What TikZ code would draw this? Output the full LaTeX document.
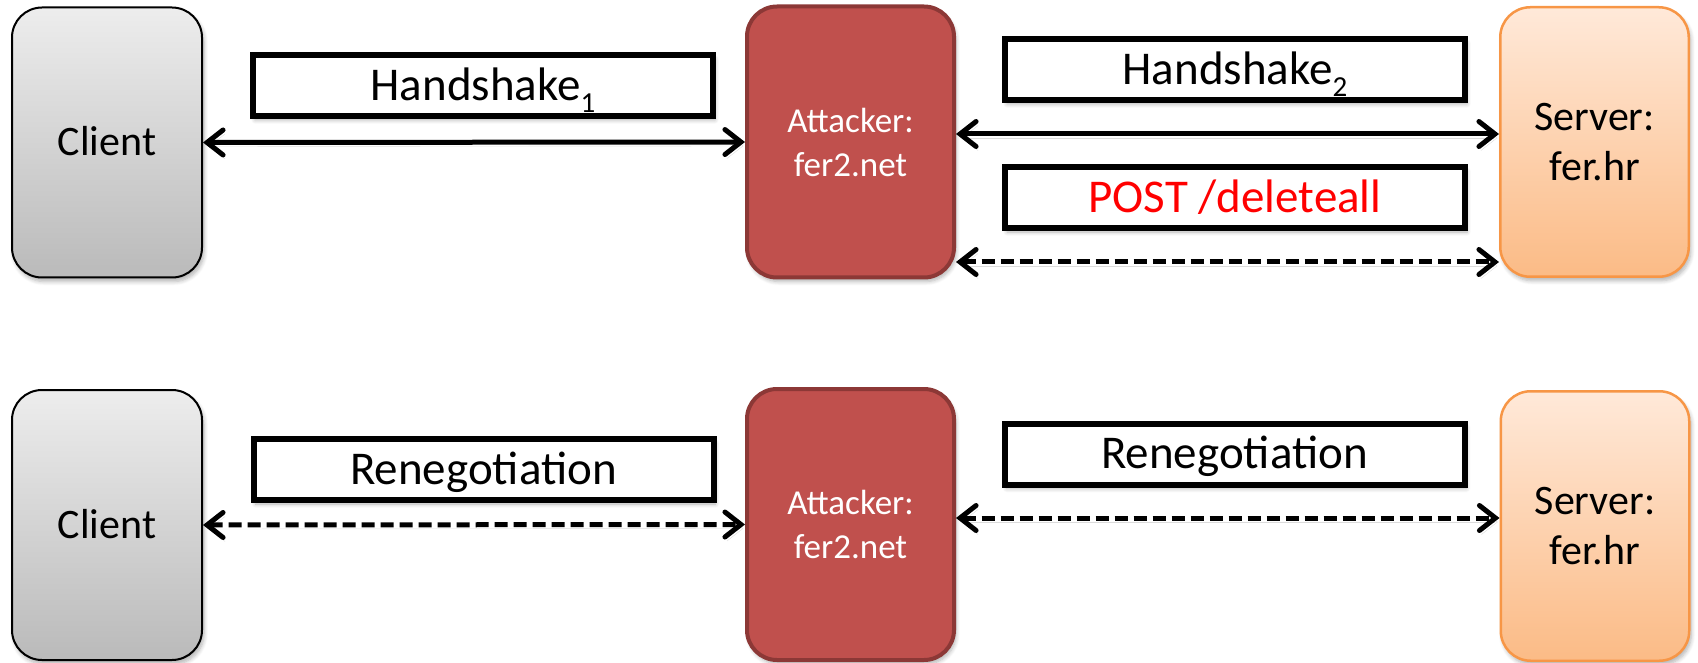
\documentclass[tikz,border=0pt]{standalone}
\usepackage{fontspec}
\setmainfont{Carlito}
\usetikzlibrary{arrows.meta,shadows.blur}

\definecolor{attfill}{HTML}{C0504D}
\definecolor{attline}{HTML}{8C3836}
\definecolor{srvtop}{HTML}{FFE9D9}
\definecolor{srvbot}{HTML}{FBBB86}
\definecolor{srvline}{HTML}{F79646}
\definecolor{clitop}{HTML}{EDEDED}
\definecolor{clibot}{HTML}{BABABA}
\definecolor{msgred}{HTML}{FF0000}

% lowered index after a message name
\newcommand\msgsub[1]{\raisebox{-0.26em}{\fontsize{29}{29}\selectfont #1}}

\begin{document}
\begin{tikzpicture}[x=1pt,y=-1pt,
  softshadow/.style={blur shadow={shadow xshift=2pt,shadow yshift=-4pt,
      shadow blur steps=6,shadow blur radius=4pt,shadow opacity=30}},
  party/.style={rounded corners=30pt,inner sep=0pt,align=center,softshadow},
  client/.style={party,draw=black,line width=2pt,top color=clitop,bottom color=clibot,
      minimum width=190pt,minimum height=270pt,
      font=\fontsize{42}{50}\selectfont,text height=26.5pt,text depth=0pt},
  attacker/.style={party,draw=attline,line width=4pt,fill=attfill,text=white,
      minimum width=207pt,minimum height=271pt,font=\fontsize{35}{44}\selectfont},
  server/.style={party,draw=srvline,line width=2.5pt,top color=srvtop,bottom color=srvbot,
      minimum width=188.5pt,minimum height=269.5pt,font=\fontsize{42}{50}\selectfont},
  msgbox/.style={draw=black,line width=6pt,fill=white,inner sep=0pt,softshadow,
      minimum width=460pt,minimum height=61pt,
      font=\fontsize{47}{50}\selectfont,text height=29.5pt,text depth=0pt},
  link/.style={line width=5pt,
      {Straight Barb[length=16pt,width=25pt,line cap=round]}-{Straight Barb[length=16pt,width=25pt,line cap=round]},
      preaction={draw=black!40,opacity=0.35,transform canvas={xshift=2pt,yshift=-4pt}}},
  dlink/.style={link,dash pattern=on 13pt off 6pt}
]
\useasboundingbox (0,0) rectangle (1698,663);

% ---- first exchange: two separate handshakes ----
\node[client]   (c1) at (107,142.5) {Client};
\node[attacker] (a1) at (850.5,142) {Attacker:\\fer2.net};
\node[server]   (s1) at (1594.5,142) {Server:\\fer.hr};

\node[msgbox] (hs1)  at (483,85.5)   {Handshake\msgsub{1}};
\node[msgbox] (hs2)  at (1235,69.5)  {Handshake\msgsub{2}};
\node[msgbox,text=msgred] (post) at (1235,197.5) {POST /deleteall};

\coordinate (y1) at (0,134);
\coordinate (y2) at (0,262);
\draw[link]  (c1.east) -- (a1.west);
\draw[link]  (a1.east |- y1) -- (s1.west |- y1);
\draw[dlink] (a1.east |- y2) -- (s1.west |- y2);

% ---- second exchange: renegotiation ----
\node[client]   (c2) at (107,525) {Client};
\node[attacker] (a2) at (850.5,524.5) {Attacker:\\fer2.net};
\node[server]   (s2) at (1595,526) {Server:\\fer.hr};

\node[msgbox] (rn1) at (483.5,469.5) {Renegotiation};
\node[msgbox] (rn2) at (1234.5,454)  {Renegotiation};

\coordinate (y3) at (0,518);
\draw[dlink] (c2.east) -- (a2.west);
\draw[dlink] (a2.east |- y3) -- (s2.west |- y3);
\end{tikzpicture}
\end{document}
